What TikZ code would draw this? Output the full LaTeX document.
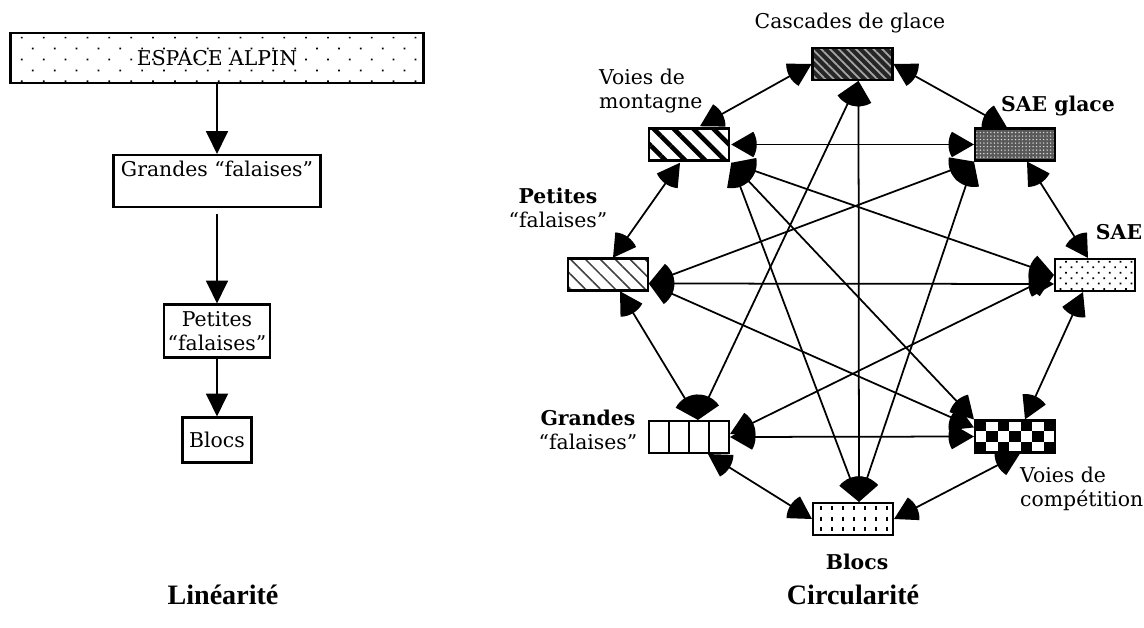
\documentclass[tikz,border=0pt]{standalone}
\usepackage{fontspec}
\setmainfont{DejaVu Serif}
\newfontfamily\titlefont{Liberation Serif}
\usetikzlibrary{arrows.meta,patterns.meta,calc}

% pointe en eventail
\pgfdeclarearrow{
  name=Fan,
  parameters={\the\pgfarrowlength},
  setup code={
    \pgfarrowssettipend{0pt}
    \pgfarrowssetbackend{-\pgfarrowlength}
    \pgfarrowssetlineend{-.8\pgfarrowlength}
    \pgfarrowssetvisualbackend{-.866\pgfarrowlength}
    \pgfarrowshullpoint{0pt}{0pt}
    \pgfarrowshullpoint{-\pgfarrowlength}{.5\pgfarrowlength}
    \pgfarrowshullpoint{-\pgfarrowlength}{-.5\pgfarrowlength}
    \pgfarrowssavethe\pgfarrowlength
  },
  drawing code={
    \pgfpathmoveto{\pgfpointorigin}
    \pgfpathlineto{\pgfpointpolar{150}{\pgfarrowlength}}
    \pgfpatharc{150}{210}{\pgfarrowlength}
    \pgfpathclose
    \pgfusepathqfill
  },
  defaults={length=15pt}
}

\begin{document}
\begin{tikzpicture}[x=0.02cm,y=-0.02cm,font=\fontsize{11.6}{13.5}\selectfont]
\tikzset{
flow box/.style={draw,line width=1.2pt,inner sep=2pt,align=center},
cell/.style={draw,line width=1.2pt,minimum width=1.6cm,minimum height=0.64cm,inner sep=0pt},
flow/.style={line width=1pt,>={Triangle[length=13pt,width=12.5pt]},->},
link/.style={line width=1pt,>={Fan[length=14.5pt]},<->},
tag/.style={align=left},
strong tag/.style={align=center,font=\fontsize{11.6}{13.5}\selectfont\bfseries},
heading/.style={font=\titlefont\fontsize{16}{19}\selectfont\bfseries},
ice fill/.style={preaction={fill=black!85},pattern={Lines[angle=-45,distance=3.5pt,line width=1pt]},pattern color=black!35},
mountain fill/.style={pattern={Lines[angle=-45,distance=8pt,line width=2.6pt]}},
sae ice fill/.style={preaction={fill=black!65},pattern={Dots[distance=2pt,radius=0.45pt]},pattern color=black!15},
sae fill/.style={pattern={Dots[angle=45,distance=4.4pt,radius=0.7pt]}},
small wall fill/.style={pattern={Lines[angle=-45,distance=6pt,line width=0.9pt]},pattern color=black!75},
big wall fill/.style={path picture={
  \foreach \k in {1,2,3}
    \draw[line width=1.2pt] ($(path picture bounding box.north west)!\k/4!(path picture bounding box.north east)$) -- ++(0,40);
}},
compet fill/.style={path picture={
  \foreach \i in {0,...,6}
    \foreach \j in {0,1,2}
      {\ifodd\numexpr\i+\j\relax\else
        \fill ($(path picture bounding box.north west)+(\i*11.43,\j*10.67)$) rectangle ++(11.43,10.67);
      \fi}
}},
boulder fill/.style={path picture={
  \foreach \k in {0,...,6}
    \draw[line width=1.2pt,dash pattern=on 2.5pt off 3.5pt] ($(path picture bounding box.north west)+(\k*11+8,3)$) -- ++(0,40);
}}
}
\useasboundingbox (0,0) rectangle (1144,628);

% linearite
\node (alpin) [flow box,minimum width=8.26cm,minimum height=1cm,pattern={Dots[angle=45,distance=8.8pt,radius=0.7pt]}] at (217,58) {ESPACE ALPIN};
\node (grandes) [flow box,minimum width=4.14cm,minimum height=1.04cm] at (217,181) {Grandes “falaises”\\~};
\node (petites) [flow box,minimum width=2.1cm,minimum height=1.06cm] at (217,331) {Petites\\“falaises”};
\node (blocs) [flow box,minimum width=1.38cm,minimum height=0.9cm] at (217,440) {Blocs};

\draw[flow] (alpin.south) -- (grandes.north);
\draw[flow] ($(grandes.south)+(0,6)$) -- (petites.north);
\draw[flow] (petites.south) -- (blocs.north);

\node (lin) [heading] at (223,595) {Linéarité};

% circularite
\node (C) [cell,ice fill] at (852.5,64) {};
\node (SG) [cell,sae ice fill] at (1015,144.5) {};
\node (S) [cell,sae fill] at (1095,275) {};
\node (VC) [cell,compet fill] at (1015,436.5) {};
\node (B) [cell,boulder fill] at (853,519) {};
\node (G) [cell,big wall fill] at (689,437) {};
\node (P) [cell,small wall fill] at (608,274.5) {};
\node (VM) [cell,mountain fill] at (689,144.5) {};

\node (C label) at (850,23) {Cascades de glace};
\node (SG label) [strong tag] at (1058,106) {SAE glace};
\node (S label) [strong tag] at (1119,232) {SAE};
\node (VC label) [tag,anchor=west] at (1014,489) {Voies de\\compétition};
\node (B label) [strong tag] at (857,562) {Blocs};
\node (G label) [align=center] at (588,430) {\textbf{Grandes}\\“falaises”};
\node (P label) [align=center] at (558,208) {\textbf{Petites}\\“falaises”};
\node (VM label) [tag,anchor=west] at (593,91) {Voies de\\montagne};

% tour
\draw[link] (C.west) -- ($(VM.north)+(11,0)$);
\draw[link] (C.east) -- ($(SG.north)+(-8,0)$);
\draw[link] ($(SG.south)+(12,0)$) -- ($(S.north)+(-7,0)$);
\draw[link] ($(S.south)+(-12,0)$) -- ($(VC.north)+(10,0)$);
\draw[link] ($(VC.south)+(5,0)$) -- (B.east);
\draw[link] (B.west) -- ($(G.south)+(19,0)$);
\draw[link] ($(G.north)+(9,0)$) -- ($(P.south)+(12,0)$);
\draw[link] ($(P.north)+(5,0)$) -- ($(VM.south)+(-9,0)$);
% cordes
\draw[link] (VM.east) -- (SG.west);
\draw[link] ($(P.east)+(0,9)$) -- ($(S.west)+(0,9)$);
\draw[link] (G.east) -- (VC.west);
\draw[link] ($(C.south)+(6,0)$) -- ($(B.north)+(6,0)$);
\draw[link] (VM.south east) -- (S.west);
\draw[link] (VM.south east) -- (VC.north west);
\draw[link] (VM.south east) -- ($(B.north)+(6,0)$);
\draw[link] ($(P.east)+(0,9)$) -- (SG.south west);
\draw[link] ($(P.east)+(0,9)$) -- ($(VC.north west)+(0,8)$);
\draw[link] ($(G.north)+(9,0)$) -- ($(C.south)+(6,0)$);
\draw[link] ($(G.east)+(0,-3)$) -- (S.west);
\draw[link] ($(B.north)+(6,0)$) -- (SG.south west);

\node (circ) [heading] at (853,595) {Circularité};
\end{tikzpicture}
\end{document}
